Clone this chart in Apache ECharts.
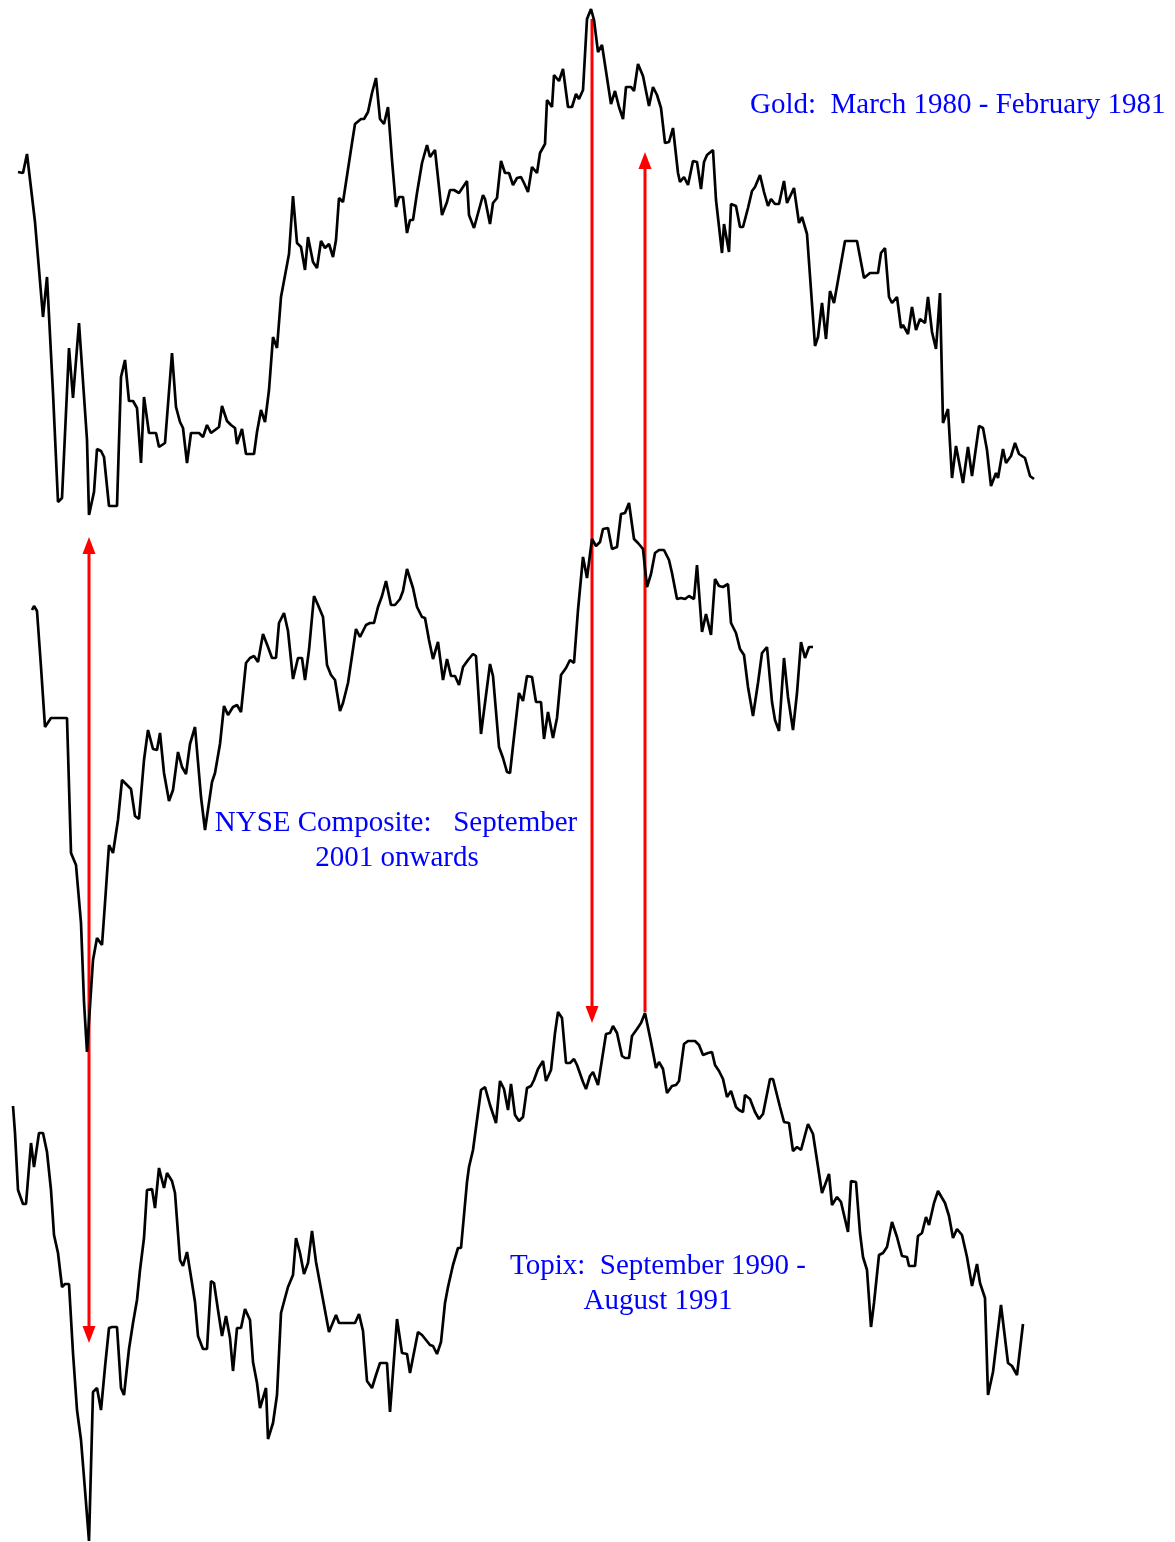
<!DOCTYPE html>
<html>
<head>
<meta charset="utf-8">
<title>Gold, NYSE Composite, Topix</title>
<script src="https://cdn.jsdelivr.net/npm/echarts/dist/echarts.min.js"></script>
<style>
  html, body { margin: 0; padding: 0; background: #fff; }
  #chart { width: 1175px; height: 1542px; }
</style>
</head>
<body>
<div id="chart"></div>
<script>
// [trading day, level]
var goldData = [[0,644],[1.25,643.5],[2.25,653],[4.25,619],[6.25,571.5],[7.25,591.5],[8.75,533.5],[10,479],[11,481],[12.75,556],[13.75,531],[15.25,568.5],[17.25,510],[17.75,472.5],[19,484],[19.75,505.5],[20.75,504.5],[21.5,501.5],[22.75,477],[24.75,477],[25.75,541.5],[26.75,550],[27.75,529.5],[28.75,529.5],[29.75,526],[30.75,498.5],[31.5,531.5],[32.75,513.5],[34.5,513.5],[35.25,506.5],[36.75,508.5],[38.5,553.5],[39.5,526.5],[40.5,519],[41.25,516],[42.25,498.5],[43.25,513.5],[45.25,513.5],[46.25,511.5],[47.25,517.5],[48.25,513.5],[50.25,516.5],[51,527],[52.25,519.5],[53.25,517.5],[54.25,516],[54.75,508],[56,515.5],[57,503],[59,503],[59.75,514],[60.75,525],[61.75,519],[62.75,535],[63.75,561.5],[64.75,556],[65.75,581.5],[67.75,603],[68.75,632],[69.75,608.5],[70.75,606.5],[71.75,595],[72.5,611.5],[73.75,599],[74.75,596],[75.75,609.5],[76.75,606],[77.75,608],[78.75,601.5],[79.5,610],[80.25,631],[81.25,629],[83.5,658.5],[84.25,668],[85.75,670.5],[86.5,670.5],[87.5,674],[88.5,683.5],[89.5,691],[90.5,670.5],[91.5,668],[92.5,676.5],[93.5,650],[94.5,626.5],[95.25,631.5],[96.25,631.5],[97.25,613.5],[98,620],[98.75,620],[99.75,633.5],[101,648.5],[102.25,657.5],[103,651.5],[104.25,655],[105.25,636.5],[106,622.5],[107.25,629],[108,635],[109,635],[110.25,633.5],[112.25,639.5],[112.75,622.5],[114,616],[116.25,632.5],[116.75,630.5],[118,618],[118.75,628.5],[119.75,631],[120.75,649.5],[121.75,643.5],[122.75,643.5],[123.75,637.5],[124.75,641],[125.75,641.5],[126.5,638.5],[127.5,634],[128.5,646.5],[129.75,643.5],[130.5,653.5],[131.75,658],[132.25,680],[133.5,676.5],[134,692.5],[135.25,689.5],[136.25,695.5],[137.5,676.5],[138.5,676.5],[139.5,683],[140.25,680.5],[141.25,685],[142.25,720.5],[143.25,725.5],[144,720],[145,704],[146,707.5],[148.25,678],[149.25,684.5],[150.25,676.5],[151.25,670.5],[152,686.5],[153.25,686.5],[154,684.5],[155,698],[156.25,692],[157.75,677],[158.75,686.5],[159.75,682.5],[160.75,676],[161.75,658.5],[162.75,659],[163.75,666],[165,643.5],[165.5,639],[166.5,641.5],[167.5,637.5],[168.75,649.5],[169.75,649],[170.75,635.5],[171.5,649],[172.25,652.5],[173.75,655],[174.5,630],[176,603.5],[176.5,618],[177.75,604],[178.25,628],[179.5,627],[180.5,616.5],[181.25,616.5],[182.5,626],[183.5,634.5],[184.25,636.5],[185.5,642.5],[186.5,634],[187.5,627],[188.25,630.5],[189.25,628],[190.25,628],[191.5,639.5],[192.25,628.5],[194,636],[195.25,618.5],[196,621.5],[197.25,613],[199.25,557],[200,561.5],[201,578.5],[202,560.5],[203,584.5],[204,578.5],[206.75,609.5],[209.75,609.5],[211.5,591],[213,593.5],[215,593.5],[215.75,603.5],[216.75,606],[217.75,581.5],[218.5,578.5],[219.75,581.5],[220.75,566],[221.25,567.5],[222.5,563],[223.5,576.5],[224.5,565],[225.5,570.5],[226.75,568.5],[227.5,581.5],[228.5,564],[229.5,555.5],[230.5,583.5],[231.25,518.5],[232.5,525.5],[233.5,491],[234.5,507],[236.25,488.5],[237.5,506.5],[238.5,492],[240.25,517],[241.25,516],[242.25,505],[243.25,487],[244.5,493.5],[245,491],[246.25,505.5],[247,498.5],[248.25,502],[249.25,508.5],[250.25,503],[251.75,501],[253,492],[254,490.5]];

var nyseData = [[0,578],[0.5,578.8],[1.25,577.8],[2.25,566.6],[3.25,554.6],[4.75,556.4],[8.75,556.4],[9.75,529.4],[11,527],[12.25,515.4],[13,499.6],[13.75,489.6],[15.25,508],[16.25,512.4],[17.5,511],[18.25,519.4],[19.25,531],[20.25,529.4],[21.5,536],[22.5,544],[23.5,543.2],[24.75,542.2],[25.75,536.8],[26.75,536.2],[28,548],[29,554],[30.25,550.2],[31.25,550],[32,553.4],[33,545.4],[34.25,539.8],[35.25,542],[36.5,549.6],[37.5,546.6],[38.5,545.2],[39.5,551.2],[40.75,554.6],[42.25,540.6],[43.25,534],[43.75,533.8],[45,543.6],[45.75,545.4],[47,551.2],[48,558.8],[49,557],[50.25,558.6],[51.25,559],[52.25,557.6],[53.5,567.4],[54.5,568.4],[55.5,568.8],[56.5,567.6],[57.75,573.2],[59,570.6],[60,568.4],[61,568.4],[61.75,575.4],[63,577.4],[64,573.8],[65.25,564.2],[66.5,568.4],[67.5,568.4],[68.25,564],[69.25,570],[70.5,580.8],[71.5,579],[72.75,576.6],[73.75,567],[74.75,565],[75.75,564],[77,557.8],[77.75,559.4],[79,563.4],[81,574.2],[82,572.6],[83.5,575],[84.5,575.4],[85.5,575.4],[86.5,578.6],[87.5,580.8],[88.5,583.8],[89.75,579],[90.75,579],[92,580.2],[92.75,581.8],[93.75,586.2],[95.25,582.4],[96.25,578.6],[97.5,576.6],[98.25,576.4],[99.25,572],[100.25,568.2],[101.5,571.6],[102.75,564],[103.75,568.2],[104.75,564.8],[105.75,564.8],[106.75,563],[107.75,566.6],[109,568],[110.25,569.2],[111,568.8],[112.25,553.2],[114.5,567.2],[115.25,564.8],[116.75,550.6],[117.75,548.4],[118.75,545.6],[119.5,545.4],[120.5,552.6],[121.75,561.4],[122.75,559.8],[123.75,564.8],[125,564.6],[126,559.6],[127.25,559.6],[128,552.2],[129,557.6],[130.25,552.4],[131.25,556.4],[132.25,565],[133.5,566.4],[134.5,568],[135.5,567.4],[136.5,578],[137.75,588.6],[138.75,584.4],[140,592.2],[141,590.8],[142,591.6],[142.75,594.2],[144,594.4],[145,590.2],[146.25,590.6],[147.25,597.2],[148.25,597.4],[149.25,599.4],[150.5,592.2],[151.5,591.4],[152.75,590.2],[153.75,582.6],[154.75,585.2],[155.75,589.4],[156.75,590],[158,590],[159.25,588],[160,585.4],[161.25,580.2],[162.25,580.4],[163.25,580.2],[164.25,580.8],[165.5,580.2],[166.25,587],[167.5,573.6],[168.5,577.2],[169.75,573],[170.75,584.2],[171.75,582.8],[172.75,582.6],[174,583.2],[174.75,575.4],[176,573.4],[177,570.2],[178,569],[179,562.6],[180.25,556.8],[181.5,563.4],[182.5,569.4],[183.75,570.6],[185,559.6],[185.75,556],[186.75,553.8],[188,568.4],[189,560.6],[190.25,554],[191.25,561.4],[192.25,571.6],[193.25,568.4],[194.25,570.6],[195.25,570.6]];

var topixData = [[0,1894],[0.5,1867],[1.25,1810],[2.5,1796],[3.25,1796],[4.5,1857],[5.25,1833],[6.5,1867],[7.5,1867],[8.5,1848],[9.5,1810],[10.25,1765],[11.25,1747],[12.25,1713],[13,1716],[14,1716],[15,1647],[16,1590],[17,1560],[18,1510],[19,1459],[20,1608],[21,1612],[22,1590],[23,1633],[24,1672],[24.75,1673],[26,1673],[27,1612],[27.75,1605],[29,1651],[30,1677],[31,1700],[31.75,1730],[32.75,1762],[33.5,1810],[34.75,1811],[35.5,1792],[36.5,1832],[37.75,1812],[38.5,1827],[39.75,1819],[40.5,1807],[41.75,1740],[42.5,1734],[43.5,1748],[44.75,1717],[45.5,1698],[46.25,1664],[47.5,1651],[48.5,1651],[49.5,1719],[50.25,1717],[51.25,1690],[52.25,1664],[53.25,1684],[54.25,1662],[55,1629],[56,1672],[57,1672],[58,1691],[59.25,1680],[60,1638],[61,1617],[61.75,1592],[63.25,1612],[63.75,1561],[65,1577],[66,1605],[67,1687],[68,1702],[68.75,1713],[70,1725],[70.75,1762],[71.75,1747],[72.75,1726],[73.75,1737],[74.75,1769],[75.75,1738],[77,1711],[77.5,1710],[79,1668],[80.75,1685],[81.5,1677],[85.5,1677],[86.5,1686],[87.5,1669],[88.5,1619],[89.75,1612],[90.75,1625],[91.75,1637],[93.5,1637],[94.25,1588],[96,1681],[97.25,1647],[98.5,1646],[99.25,1627],[101.25,1668],[102.25,1665],[104.25,1655],[105,1654],[106,1646],[107,1658],[108,1697],[108.75,1713],[110,1735],[111.25,1752],[112,1752],[113.5,1818],[114,1833],[115,1850],[115.5,1849],[117,1910],[118,1913],[119.25,1895],[120.75,1877],[121.75,1919],[122.75,1911],[123.75,1890],[124.5,1916],[125.5,1885],[126.5,1879],[127.5,1883],[128.5,1912],[129.5,1914],[130.25,1920],[131.25,1931],[132.5,1939],[133.25,1919],[134.5,1930],[135.5,1967],[136.25,1988],[137.25,1982],[138.25,1937],[139.25,1937],[140.25,1941],[141,1935],[142.5,1918],[143.25,1911],[144.25,1924],[145,1928],[146.25,1915],[148.25,1966],[149.25,1967],[150,1974],[151,1967],[152.25,1944],[153,1942],[154,1942],[154.75,1964],[156,1971],[157,1977],[158,1987],[159.5,1958],[160.75,1932],[161.5,1938],[162.5,1931],[163.5,1907],[164.75,1914],[165.75,1915],[166.5,1919],[167.75,1956],[168.75,1959],[170.5,1959],[171.5,1955],[172.5,1945],[173.75,1947],[174.75,1948],[175.5,1935],[176.5,1929],[177.5,1921],[178.5,1903],[179.5,1909],[180.75,1893],[181.5,1890],[182.5,1888],[183,1905],[184.25,1901],[185.5,1888],[186.5,1881],[187.5,1886],[189.25,1921],[190,1921],[191.75,1893],[192.75,1878],[194,1877],[195,1849],[196,1853],[197,1850],[198.75,1876],[200,1866],[202.25,1807],[204,1826],[204.75,1795],[206,1803],[207,1798],[208.75,1768],[209.5,1819],[210.75,1818],[211.75,1767],[212.5,1743],[213.5,1730],[214.5,1673],[215.25,1697],[216.5,1745],[217.5,1747],[218.5,1753],[219.75,1778],[221,1763],[222.25,1744],[223.5,1743],[224,1734],[225.5,1734],[226.25,1764],[227.25,1767],[228.25,1783],[229,1775],[230.25,1797],[231.25,1809],[233,1797],[234,1784],[235,1762],[236,1771],[237.25,1765],[238.5,1743],[239.75,1714],[241,1736],[241.75,1717],[243,1702],[243.75,1605],[245,1628],[247,1695],[248.75,1637],[249.75,1634],[251,1625],[252.5,1676]];

var labels = [
  { text: "Gold:  March 1980 - February 1981", x: 750, y: 105, align: "left" },
  { text: "NYSE Composite:   September", x: 396, y: 823, align: "center" },
  { text: "2001 onwards", x: 397, y: 858, align: "center" },
  { text: "Topix:  September 1990 -", x: 658, y: 1266, align: "center" },
  { text: "August 1991", x: 658, y: 1301, align: "center" }
];

// red arrows: x, top, bottom, which ends have heads
var arrows = [
  { x: 89, top: 537, bottom: 1343, up: true, down: true },
  { x: 592, top: 19, bottom: 1023, up: false, down: true },
  { x: 645, top: 152, bottom: 1012, up: true, down: false }
];

var myChart = echarts.init(document.getElementById("chart"));

function axisX(min, max, idx) {
  return { gridIndex: idx, type: "value", min: min, max: max, show: false };
}
function axisY(min, max, idx) {
  return { gridIndex: idx, type: "value", min: min, max: max, show: false, scale: true };
}
function lineSeries(data, idx) {
  return {
    type: "line",
    xAxisIndex: idx,
    yAxisIndex: idx,
    data: data,
    symbol: "none",
    silent: true,
    lineStyle: { color: "#000", width: 2.7 }
  };
}

var graphics = [];
labels.forEach(function (l) {
  graphics.push({
    type: "text",
    x: l.x,
    y: l.y,
    style: {
      text: l.text,
      fill: "#0000ff",
      font: "29px 'Liberation Serif', 'Times New Roman', serif",
      textAlign: l.align,
      textVerticalAlign: "middle"
    }
  });
});
arrows.forEach(function (a) {
  var y1 = a.up ? a.top + 16 : a.top;
  var y2 = a.down ? a.bottom - 16 : a.bottom;
  graphics.push({
    type: "line",
    shape: { x1: a.x, y1: y1, x2: a.x, y2: y2 },
    style: { stroke: "#ff0000", lineWidth: 3 }
  });
  if (a.up) {
    graphics.push({
      type: "polygon",
      shape: { points: [[a.x - 6.5, a.top + 17], [a.x + 6.5, a.top + 17], [a.x, a.top]] },
      style: { fill: "#ff0000" }
    });
  }
  if (a.down) {
    graphics.push({
      type: "polygon",
      shape: { points: [[a.x - 6.5, a.bottom - 17], [a.x + 6.5, a.bottom - 17], [a.x, a.bottom]] },
      style: { fill: "#ff0000" }
    });
  }
});

myChart.setOption({
  animation: false,
  backgroundColor: "#fff",
  grid: [
    { left: 0, right: 0, top: 0, bottom: 0 },
    { left: 0, right: 0, top: 0, bottom: 0 },
    { left: 0, right: 0, top: 0, bottom: 0 }
  ],
  // 4 px per trading day on every panel, offset so each series starts where it does in the original
  xAxis: [axisX(-4.5, 289.25, 0), axisX(-8, 285.75, 1), axisX(-3.25, 290.5, 2)],
  yAxis: [axisY(-41, 730, 0), axisY(391.6, 700, 1), axisY(1458, 3000, 2)],
  series: [lineSeries(goldData, 0), lineSeries(nyseData, 1), lineSeries(topixData, 2)],
  graphic: graphics
});
</script>
</body>
</html>
